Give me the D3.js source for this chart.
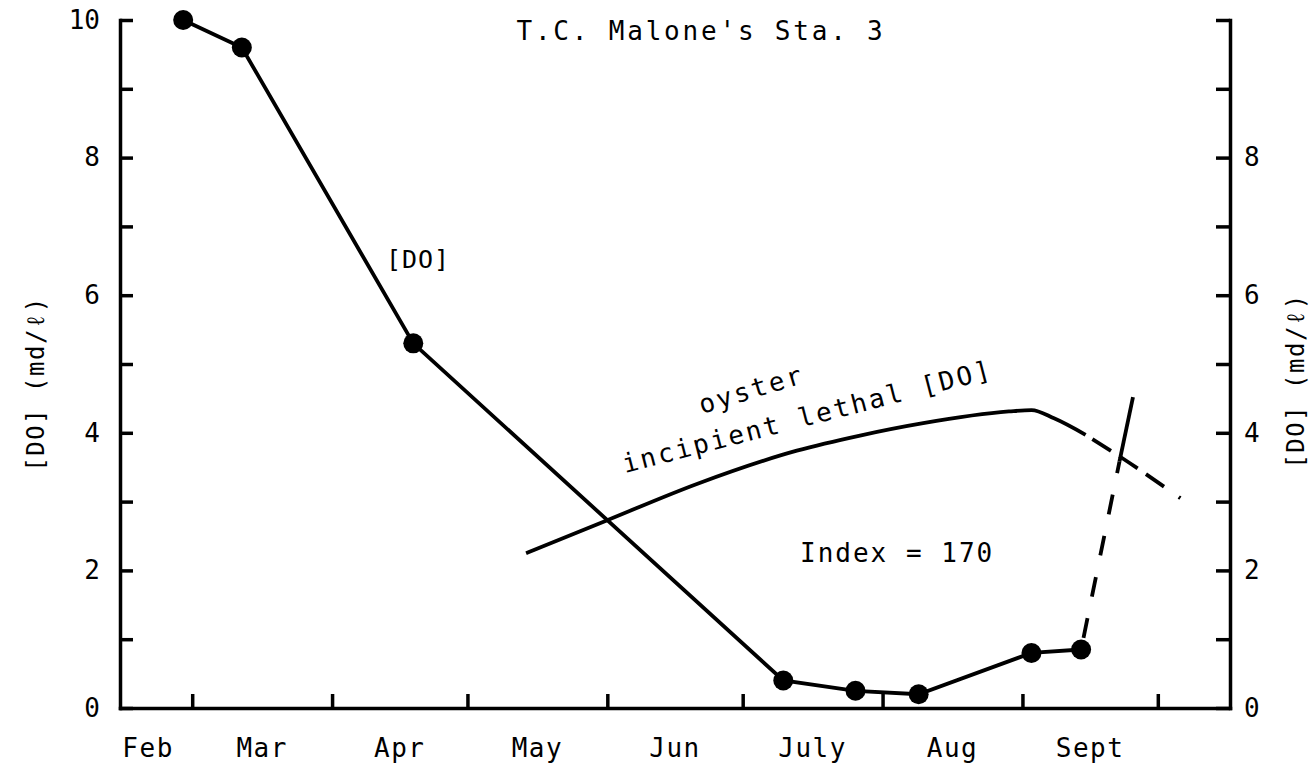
<!DOCTYPE html>
<html>
<head>
<meta charset="utf-8">
<script src="https://cdn.jsdelivr.net/npm/d3@7"></script>
<style>
  html, body { margin: 0; padding: 0; background: #fff; }
  svg { display: block; }
  text { font-family: "DejaVu Sans Mono", "Liberation Mono", monospace; fill: #000; }
</style>
</head>
<body>
<svg id="chart" width="1311" height="767"></svg>
<script>
// ---------------- data ----------------
const title = "T.C. Malone's Sta. 3";
const monthLabels = ["Feb", "Mar", "Apr", "May", "Jun", "July", "Aug", "Sept"];
const monthStarts = ["1975-03-01", "1975-04-01", "1975-05-01", "1975-06-01", "1975-07-01", "1975-08-01", "1975-09-01", "1975-10-01"];
const xDomain = ["1975-02-13", "1975-10-17"];
const yTicks = [0, 1, 2, 3, 4, 5, 6, 7, 8, 9, 10];

// measured dissolved oxygen
const doDates = ["1975-02-27", "1975-03-12", "1975-04-19", "1975-07-10", "1975-07-26", "1975-08-09", "1975-09-03", "1975-09-14"];
const doValues = [10.0, 9.6, 5.3, 0.4, 0.25, 0.2, 0.8, 0.85];
// extrapolated rise (dashed) and its solid end
const riseDashDates = ["1975-09-14", "1975-09-22T12:00"];
const riseDashValues = [0.85, 3.58];
const riseSolidDates = ["1975-09-22T12:00", "1975-09-25T12:00"];
const riseSolidValues = [3.58, 4.52];

// oyster incipient lethal [DO]
const lethalDates = ["1975-05-14", "1975-06-01", "1975-06-21", "1975-07-13", "1975-07-27", "1975-08-10", "1975-08-29", "1975-09-03", "1975-09-08", "1975-09-15"];
const lethalValues = [2.25, 2.73, 3.26, 3.74, 3.96, 4.14, 4.31, 4.33, 4.21, 3.97];
const lethalDashDates = ["1975-09-15", "1975-09-22", "1975-10-06"];
const lethalDashValues = [3.97, 3.68, 3.05];

// ---------------- chart ----------------
(function () {
const parse = s => new Date(s.length > 10 ? s : s + "T00:00");
const svg = d3.select("#chart");
const pL = 120, pR = 1230, pT = 20, pB = 708;

const x = d3.scaleTime().domain(xDomain.map(parse)).range([pL, pR]);
const y = d3.scaleLinear().domain([0, 10]).range([pB, pT]);

const axisStroke = 3.5;

const gL = svg.append("g").attr("transform", `translate(${pL},0)`)
  .call(d3.axisLeft(y).tickValues(yTicks).tickSizeInner(-13).tickSizeOuter(0).tickPadding(20)
    .tickFormat(d => d % 2 === 0 ? d : ""));
const gR = svg.append("g").attr("transform", `translate(${pR},0)`)
  .call(d3.axisRight(y).tickValues(yTicks).tickSizeInner(-14).tickSizeOuter(0).tickPadding(14)
    .tickFormat(d => (d % 2 === 0 && d !== 10) ? d : ""));
const gB = svg.append("g").attr("transform", `translate(0,${pB})`)
  .call(d3.axisBottom(x).tickValues(monthStarts.map(parse)).tickSizeInner(-14).tickSizeOuter(0).tickFormat(""));

[gL, gR, gB].forEach(g => {
  g.select(".domain").attr("stroke", "#000").attr("stroke-width", axisStroke).attr("stroke-linecap", "square");
  g.selectAll(".tick line").attr("stroke", "#000").attr("stroke-width", axisStroke);
  g.selectAll(".tick text").style("font-size", "26px").attr("font-family", null);
});

const bounds = [x.domain()[0], ...monthStarts.map(parse)];
svg.append("g").selectAll("text").data(monthLabels).join("text")
  .attr("x", (d, i) => (x(bounds[i]) + x(bounds[i + 1])) / 2 - (i === 0 ? 8 : 0))
  .attr("y", 757)
  .attr("text-anchor", "middle")
  .style("font-size", "26px")
  .style("letter-spacing", "1.5px")
  .text(d => d);

svg.append("text").attr("x", 701).attr("y", 40).attr("text-anchor", "middle")
  .style("font-size", "26px").style("letter-spacing", "2.8px").text(title);

svg.append("text").attr("transform", "translate(44,384) rotate(-90)").attr("text-anchor", "middle")
  .style("font-size", "24px").style("letter-spacing", "1.5px").text("[DO]  (md/ℓ)");
svg.append("text").attr("transform", "translate(1304,381) rotate(-90)").attr("text-anchor", "middle")
  .style("font-size", "24px").style("letter-spacing", "1.5px").text("[DO]  (md/ℓ)");

const line = d3.line().x(d => x(d[0])).y(d => y(d[1]));
const smooth = d3.line().x(d => x(d[0])).y(d => y(d[1])).curve(d3.curveMonotoneX);
const zip = (ds, vs) => ds.map((d, i) => [parse(d), vs[i]]);

const lw = 3.8;
svg.append("path").datum(zip(lethalDates, lethalValues)).attr("d", smooth)
  .attr("fill", "none").attr("stroke", "#000").attr("stroke-width", lw);
svg.append("path").datum(zip(lethalDashDates, lethalDashValues)).attr("d", smooth)
  .attr("fill", "none").attr("stroke", "#000").attr("stroke-width", lw).attr("stroke-dasharray", "0,8,22,10,22,10,22,10");

svg.append("path").datum(zip(doDates, doValues)).attr("d", line)
  .attr("fill", "none").attr("stroke", "#000").attr("stroke-width", lw);
svg.append("path").datum(zip(riseDashDates, riseDashValues)).attr("d", line)
  .attr("fill", "none").attr("stroke", "#000").attr("stroke-width", lw).attr("stroke-dasharray", "0,12,20,10");
svg.append("path").datum(zip(riseSolidDates, riseSolidValues)).attr("d", line)
  .attr("fill", "none").attr("stroke", "#000").attr("stroke-width", lw);

svg.append("g").selectAll("circle").data(zip(doDates, doValues)).join("circle")
  .attr("cx", d => x(d[0])).attr("cy", d => y(d[1])).attr("r", 10).attr("fill", "#000");

svg.append("text").attr("x", 418).attr("y", 268).attr("text-anchor", "middle")
  .style("font-size", "25px").style("letter-spacing", "1px").text("[DO]");
svg.append("text").attr("x", 800).attr("y", 562)
  .style("font-size", "26px").style("letter-spacing", "2px").text("Index = 170");
svg.append("text").attr("transform", "translate(702,414) rotate(-17)")
  .style("font-size", "26px").style("letter-spacing", "2.5px").text("oyster");
svg.append("text").attr("transform", "translate(625,473) rotate(-14.5)")
  .style("font-size", "26px").style("letter-spacing", "2.5px").text("incipient lethal [DO]");
})();
</script>
</body>
</html>
